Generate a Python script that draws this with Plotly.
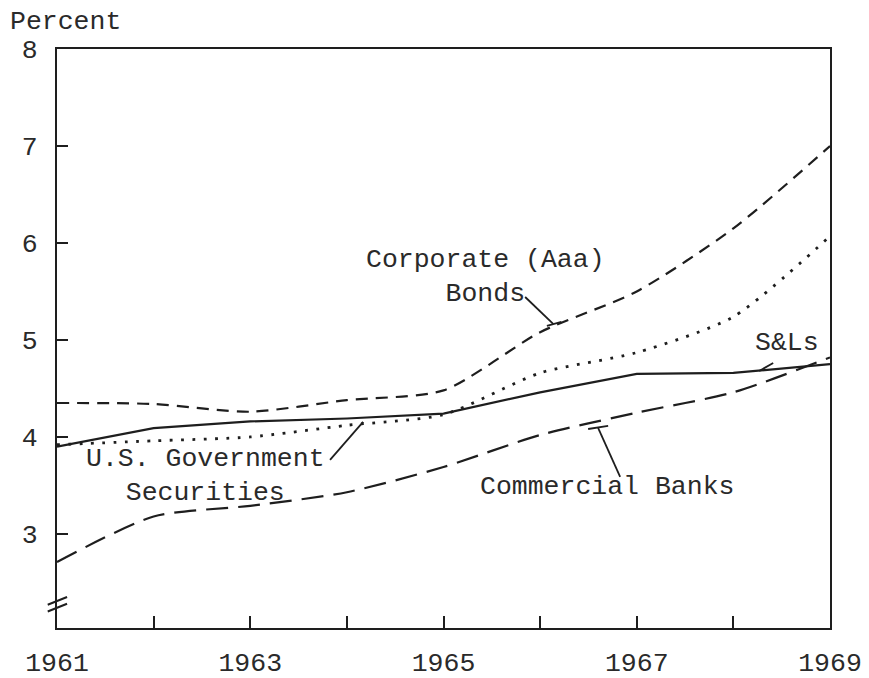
import plotly.graph_objects as go

years = [1961, 1962, 1963, 1964, 1965, 1966, 1967, 1968, 1969]
corporate_aaa = [4.35, 4.34, 4.26, 4.38, 4.48, 5.08, 5.50, 6.15, 7.00]
gov_securities = [3.92, 3.96, 4.00, 4.12, 4.23, 4.66, 4.87, 5.24, 6.07]
savings_loans = [3.90, 4.09, 4.16, 4.19, 4.24, 4.46, 4.65, 4.66, 4.75]
commercial_banks = [2.71, 3.18, 3.29, 3.43, 3.69, 4.02, 4.25, 4.46, 4.82]

tick_years = [1961, 1962, 1963, 1964, 1965, 1966, 1967, 1968, 1969]
tick_text = ['1961', '', '1963', '', '1965', '', '1967', '', '1969']

INK = '#1e1e1e'
FONT = 'Courier New, Liberation Mono, monospace'
TXT = dict(family=FONT, size=26.5, color='#2a2a2a')

fig = go.Figure()
fig.add_trace(go.Scatter(x=years, y=corporate_aaa, mode='lines', name='Corporate (Aaa) Bonds',
                         line=dict(color=INK, width=2.2, dash='12px,8px', shape='spline', smoothing=0.7)))
fig.add_trace(go.Scatter(x=years, y=gov_securities, mode='lines', name='U.S. Government Securities',
                         line=dict(color=INK, width=2.8, dash='2.8px,8.5px', shape='spline', smoothing=0.7)))
fig.add_trace(go.Scatter(x=years, y=savings_loans, mode='lines', name='S&Ls',
                         line=dict(color=INK, width=2.2)))
fig.add_trace(go.Scatter(x=years, y=commercial_banks, mode='lines', name='Commercial Banks',
                         line=dict(color=INK, width=2.2, dash='22px,10px', shape='spline', smoothing=0.7)))

# labels for the lines
labels = [
    (1965.43, 5.65, 'Corporate (Aaa)<br>Bonds'),
    (1968.55, 4.97, 'S&amp;Ls'),
    (1962.54, 3.60, 'U.S. Government<br>Securities'),
    (1966.69, 3.485, 'Commercial Banks'),
]
for x, y, t in labels:
    fig.add_annotation(x=x, y=y, text=t, showarrow=False, xanchor='center', yanchor='middle', font=TXT)

# pointer lines
pointers = [
    (1965.845, 5.443, 1966.135, 5.165),
    (1966.07, 5.144, 1966.22, 5.186),
    (1968.412, 4.763, 1968.267, 4.680),
    (1963.826, 3.763, 1964.168, 4.155),
    (1966.828, 3.588, 1966.600, 4.093),
    (1966.497, 4.082, 1966.704, 4.113),
]
for x0, y0, x1, y1 in pointers:
    fig.add_shape(type='line', x0=x0, y0=y0, x1=x1, y1=y1, xref='x', yref='y',
                  line=dict(color=INK, width=1.8))

# axis break marks
for yb in (2.24, 2.31):
    fig.add_shape(type='line', xref='x domain', yref='y', x0=-0.012, x1=0.013,
                  y0=yb - 0.04, y1=yb + 0.04, line=dict(color=INK, width=2))

fig.add_annotation(xref='paper', yref='paper', x=-0.063, y=1.047, xanchor='left', yanchor='middle',
                   text='Percent', showarrow=False, font=TXT)

fig.update_xaxes(range=[1961, 1969], tickvals=tick_years, ticktext=tick_text,
                 ticks='inside', ticklen=12, tickwidth=2, tickcolor=INK,
                 showline=True, linewidth=2, linecolor=INK, mirror=True,
                 showgrid=False, zeroline=False, ticklabelstandoff=9, automargin=False,
                 tickfont=TXT)
fig.update_yaxes(range=[2.03, 8], tickvals=[3, 4, 5, 6, 7, 8],
                 ticks='inside', ticklen=11, tickwidth=2, tickcolor=INK,
                 showline=True, linewidth=2, linecolor=INK, mirror=True,
                 showgrid=False, zeroline=False, ticklabelstandoff=12, automargin=False,
                 tickfont=TXT)

# the page puts the figure 8px in from the top-left corner
fig.update_layout(width=861, height=670, showlegend=False,
                  margin=dict(l=49, r=39, t=41, b=50),
                  plot_bgcolor='white', paper_bgcolor='white')

fig.write_html("out.html")
